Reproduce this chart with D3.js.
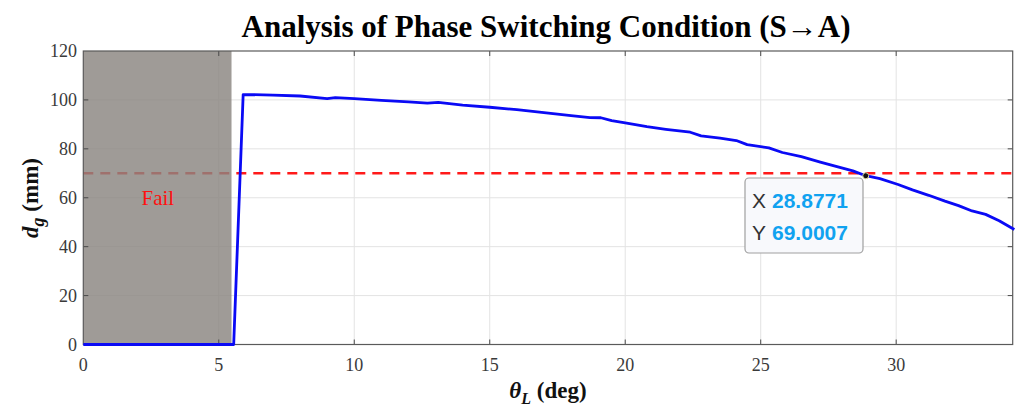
<!DOCTYPE html>
<html>
<head>
<meta charset="utf-8">
<script src="https://cdn.jsdelivr.net/npm/d3@7"></script>
<style>
  html, body { margin: 0; padding: 0; background: #fff; }
  svg { display: block; }
</style>
</head>
<body>
<svg id="chart" width="1016" height="409"></svg>
<script>
// Landing angle θL (deg) and resulting gap d_g (mm)
const theta = [0, 5.55, 5.9, 7.0, 8.0, 9.0, 9.3, 10.0, 11.0, 12.0, 12.7, 13.1, 14.0, 15.0, 16.0, 17.0,
  18.0, 18.7, 19.1, 19.5, 20.0, 20.8, 21.5, 22.4, 22.8, 23.5, 24.1, 24.5, 25.3, 25.8, 26.5,
  27.2, 27.85, 28.4, 28.8771, 29.4, 30.07, 30.6, 31.2, 31.8, 32.3, 32.8, 33.3, 33.8, 34.36];
const dg = [0, 0, 102.2, 102.0, 101.6, 100.5, 100.9, 100.5, 99.8, 99.2, 98.7, 99.0, 97.9, 97.0, 96.0, 94.8,
  93.6, 92.8, 92.7, 91.5, 90.6, 89.1, 88.0, 86.8, 85.3, 84.4, 83.4, 81.7, 80.4, 78.5, 76.8,
  74.6, 72.6, 71.0, 69.0007, 67.8, 65.4, 63.2, 61.0, 58.6, 56.8, 54.6, 53.2, 50.6, 47.0];

const xTicks = [0, 5, 10, 15, 20, 25, 30];
const yTicks = [0, 20, 40, 60, 80, 100, 120];
const threshold = [70];           // required gap (mm)
const failZone = [0, 5.47];       // angle range where switching fails
const tipPoint = [28.8771, 69.0007];

const svg = d3.select("#chart");
const m = { left: 83.3, right: 1012.7, top: 51, bottom: 344.5 };
const x = d3.scaleLinear().domain([0, 34.3]).range([m.left, m.right]);
const y = d3.scaleLinear().domain([0, 120]).range([m.bottom, m.top]);
const W = m.right - m.left, H = m.bottom - m.top;

const serif = "'Liberation Serif', 'Times New Roman', serif";
const sans = "'Liberation Sans', Arial, sans-serif";

// Title
svg.append("text")
  .attr("x", 546).attr("y", 37)
  .attr("text-anchor", "middle")
  .attr("font-family", serif).attr("font-weight", "bold").attr("font-size", 31)
  .attr("fill", "#000")
  .text("Analysis of Phase Switching Condition (S→A)");

const plot = svg.append("g");

// Grid
plot.append("g").selectAll("line").data(xTicks.filter(d => d > 0)).join("line")
  .attr("x1", d => x(d)).attr("x2", d => x(d)).attr("y1", m.top).attr("y2", m.bottom)
  .attr("stroke", "#e3e3e3").attr("stroke-width", 1);
plot.append("g").selectAll("line").data(yTicks.filter(d => d > 0 && d < 120)).join("line")
  .attr("x1", m.left).attr("x2", m.right).attr("y1", d => y(d)).attr("y2", d => y(d))
  .attr("stroke", "#e3e3e3").attr("stroke-width", 1);

// Threshold line
plot.selectAll(".thr").data(threshold).join("line")
  .attr("x1", m.left).attr("x2", m.right).attr("y1", d => y(d)).attr("y2", d => y(d))
  .attr("stroke", "#ff1a1a").attr("stroke-width", 2.6).attr("stroke-dasharray", "10,7");

// Fail zone
plot.append("rect")
  .attr("x", x(failZone[0])).attr("y", m.top)
  .attr("width", x(failZone[1]) - x(failZone[0])).attr("height", H)
  .attr("fill", "#8a8580").attr("fill-opacity", 0.82);

plot.append("text")
  .attr("x", x(2.75)).attr("y", 205)
  .attr("text-anchor", "middle")
  .attr("font-family", serif).attr("font-size", 21).attr("fill", "#ff1010")
  .text("Fail");

// Axes box ticks (inward) on all four sides
const tickLen = 5;
const tickG = plot.append("g").attr("stroke", "#4a4a4a").attr("stroke-width", 1);
xTicks.filter(d => d > 0).forEach(d => {
  tickG.append("line").attr("x1", x(d)).attr("x2", x(d)).attr("y1", m.bottom).attr("y2", m.bottom - tickLen);
  tickG.append("line").attr("x1", x(d)).attr("x2", x(d)).attr("y1", m.top).attr("y2", m.top + tickLen);
});
yTicks.filter(d => d > 0 && d < 120).forEach(d => {
  tickG.append("line").attr("x1", m.left).attr("x2", m.left + tickLen).attr("y1", y(d)).attr("y2", y(d));
  tickG.append("line").attr("x1", m.right).attr("x2", m.right - tickLen).attr("y1", y(d)).attr("y2", y(d));
});
plot.append("rect")
  .attr("x", m.left).attr("y", m.top).attr("width", W).attr("height", H)
  .attr("fill", "none").attr("stroke", "#5a5a5a").attr("stroke-width", 1.2);

// Curve
const pts = theta.map((t, i) => [t, dg[i]]);
plot.append("path")
  .datum(pts)
  .attr("d", d3.line().x(d => x(d[0])).y(d => y(d[1])))
  .attr("fill", "none").attr("stroke", "#0a0af5").attr("stroke-width", 2.8)
  .attr("stroke-linejoin", "round");

// Tick labels
svg.append("g").selectAll("text").data(xTicks).join("text")
  .attr("x", d => x(d)).attr("y", 371)
  .attr("text-anchor", "middle")
  .attr("font-family", serif).attr("font-size", 18).attr("fill", "#3a3a3a")
  .text(d => d);
svg.append("g").selectAll("text").data(yTicks).join("text")
  .attr("x", 77).attr("y", d => y(d) + 6)
  .attr("text-anchor", "end")
  .attr("font-family", serif).attr("font-size", 18).attr("fill", "#3a3a3a")
  .text(d => d);

// Axis labels
const xl = svg.append("text")
  .attr("x", 548).attr("y", 398)
  .attr("text-anchor", "middle")
  .attr("font-family", serif).attr("font-weight", "bold").attr("font-size", 23).attr("fill", "#111");
xl.append("tspan").attr("font-style", "italic").text("θ");
xl.append("tspan").attr("font-style", "italic").attr("font-size", 16).attr("dy", 6).text("L");
xl.append("tspan").attr("dy", -6).text(" (deg)");

const yl = svg.append("text")
  .attr("transform", "translate(38,198) rotate(-90)")
  .attr("text-anchor", "middle")
  .attr("font-family", serif).attr("font-weight", "bold").attr("font-size", 23).attr("fill", "#111");
yl.append("tspan").attr("font-style", "italic").text("d");
yl.append("tspan").attr("font-style", "italic").attr("font-size", 18).attr("dy", 6).text("g");
yl.append("tspan").attr("dy", -6).text(" (mm)");

// Data tip
const tx = x(tipPoint[0]), ty = y(tipPoint[1]);
const tip = svg.append("g");
tip.append("rect")
  .attr("x", 745).attr("y", 178).attr("width", 118).attr("height", 75).attr("rx", 4)
  .attr("fill", "#f8f9fc").attr("stroke", "#a0a0a0").attr("stroke-width", 1.2);
const rows = [["X", tipPoint[0].toFixed(4)], ["Y", tipPoint[1].toFixed(4)]];
rows.forEach((r, i) => {
  const t = tip.append("text")
    .attr("x", 752).attr("y", 208 + i * 32)
    .attr("font-family", sans).attr("font-size", 21);
  t.append("tspan").attr("fill", "#333").text(r[0]);
  t.append("tspan").attr("dx", 6).attr("fill", "#10a2f0").attr("font-weight", "bold").text(r[1]);
});
tip.append("circle")
  .attr("cx", tx).attr("cy", ty).attr("r", 3)
  .attr("fill", "#111").attr("stroke", "#d8d8a0").attr("stroke-width", 1);
</script>
</body>
</html>
